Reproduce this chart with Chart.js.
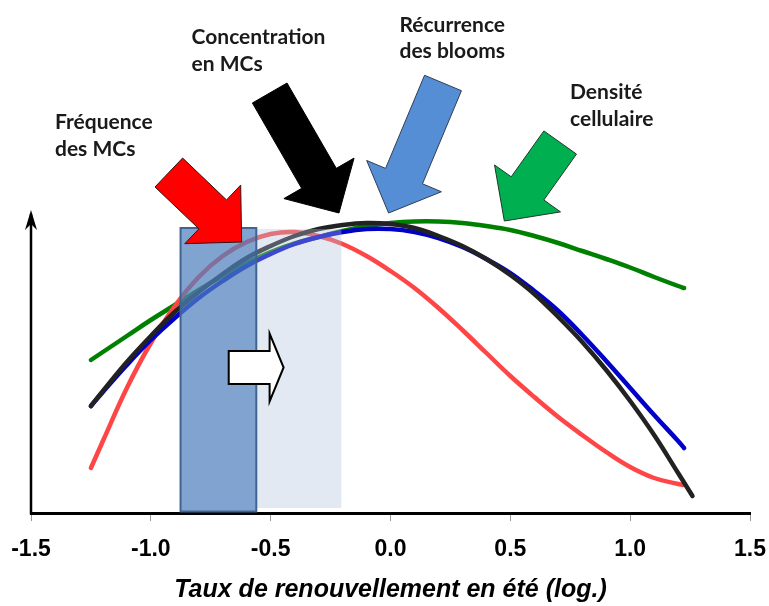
<!DOCTYPE html>
<html><head><meta charset="utf-8">
<script src="https://cdn.jsdelivr.net/npm/chart.js@4.4.0/dist/chart.umd.min.js"></script>
<style>html,body{margin:0;padding:0;background:#fff}canvas{display:block}</style>
</head><body>
<canvas id="c" width="769" height="606"></canvas>
<script>
// ---- data (y in arbitrary index units) ----
const tau = [-1.25,-1.2,-1.1,-1.0,-0.9,-0.8,-0.7,-0.6,-0.5,-0.4,-0.3,-0.2,-0.1,0.0,0.1,0.2,0.3,0.4,0.5,0.6,0.7,0.8,0.9,1.0,1.1,1.2];
const seriesNames = ['Concentration en MCs','Récurrence des blooms','Fréquence des MCs','Densité cellulaire'];
const endTau = [1.26, 1.225, 1.22, 1.225];
const concentrationMC = [107,122,151,177,201,221,239,255,267,277,284,288,290,289,285,277,267,254,238,219,196,171,143,112,78,40,17];
const recurrenceBlooms = [107,121,148,173,195,215,232,247,259,269,276,281,284,284,281,275,266,254,240,222,202,178,152,125,98,72,65];
const frequenceMC = [45,72,125,170,207,236,257,271,279,281,277,269,257,242,225,205,183,160,137,116,96,78,61,46,35,29,28];
const densiteCellulaire = [153,161,177,193,208,223,237,250,261,269.5,276,282,287,290,291.5,291.5,290,287,283,277,270,262,254,245.5,236,227,225];
const tickValues = [-1.5,-1.0,-0.5,0.0,0.5,1.0,1.5];
const tickLabels = ['-1.5','-1.0','-0.5','0.0','0.5','1.0','1.5'];
const axisTitle = 'Taux de renouvellement en été (log.)';

// ---- annotation layout (data coordinates) ----
const annotations = {
  lightBand: {x0:-0.56, x1:-0.205, y0:5, y1:284},
  darkBand: {x0:-0.876, x1:-0.56, y0:1.5, y1:285},
  whiteArrow: {x0:-0.675, x1:-0.446, y:145.5},
  blockArrows: [
    {tail:[-0.925,340.5], tip:[-0.621,271], fill:'#ff0000', stroke:'#3a1010'},
    {tail:[-0.504,420], tip:[-0.215,300], fill:'#000000', stroke:'#000000'},
    {tail:[0.219,430], tip:[-0.008,300], fill:'#558ed5', stroke:'#2f3f55'},
    {tail:[0.708,370.5], tip:[0.475,292], fill:'#00b050', stroke:'#1f3a28'}
  ],
  texts: [
    {lines:['Fréquence','des MCs'], x:-1.4, y:383.7},
    {lines:['Concentration','en MCs'], x:-0.830, y:469},
    {lines:['Récurrence','des blooms'], x:0.0375, y:481.3},
    {lines:['Densité','cellulaire'], x:0.749, y:413.7}
  ]
};

const colors = ['#222222','#0000c8','#ff4646','#008000'];
const valuesList = [concentrationMC, recurrenceBlooms, frequenceMC, densiteCellulaire];

const datasets = valuesList.map((vals, i) => ({
  label: seriesNames[i],
  data: tau.concat([endTau[i]]).map((x, j) => ({x: x, y: vals[j]})),
  borderColor: colors[i],
  borderWidth: 4.5,
  borderCapStyle: 'round',
  borderJoinStyle: 'round',
  pointRadius: 0,
  fill: false,
  tension: 0.4
}));

function blockArrow(ctx, T, P, sw, hw, hl, fill, stroke) {
  const dx = P[0]-T[0], dy = P[1]-T[1], L = Math.hypot(dx, dy);
  const ux = dx/L, uy = dy/L, nx = -uy, ny = ux;
  const bx = P[0]-ux*hl, by = P[1]-uy*hl;
  ctx.beginPath();
  ctx.moveTo(T[0]+nx*sw/2, T[1]+ny*sw/2);
  ctx.lineTo(bx+nx*sw/2, by+ny*sw/2);
  ctx.lineTo(bx+nx*hw/2, by+ny*hw/2);
  ctx.lineTo(P[0], P[1]);
  ctx.lineTo(bx-nx*hw/2, by-ny*hw/2);
  ctx.lineTo(bx-nx*sw/2, by-ny*sw/2);
  ctx.lineTo(T[0]-nx*sw/2, T[1]-ny*sw/2);
  ctx.closePath();
  ctx.fillStyle = fill; ctx.fill();
  ctx.lineWidth = 1; ctx.strokeStyle = stroke; ctx.stroke();
}

const decor = {
  id: 'decor',
  beforeDraw(chart) {
    const ctx = chart.ctx;
    ctx.save(); ctx.fillStyle = '#fff'; ctx.fillRect(0, 0, chart.width, chart.height); ctx.restore();
  },
  afterDatasetsDraw(chart) {
    const ctx = chart.ctx, xs = chart.scales.x, ys = chart.scales.y;
    const px = v => xs.getPixelForValue(v), py = v => ys.getPixelForValue(v);
    ctx.save();
    // light band
    const lb = annotations.lightBand;
    ctx.fillStyle = 'rgba(175,193,219,0.36)';
    ctx.fillRect(px(lb.x0), py(lb.y1), px(lb.x1)-px(lb.x0), py(lb.y0)-py(lb.y1));
    // dark band
    const db = annotations.darkBand;
    ctx.fillStyle = 'rgba(79,129,189,0.72)';
    const dx0 = px(db.x0), dy0 = py(db.y1), dw = px(db.x1)-px(db.x0), dh = py(db.y0)-py(db.y1);
    ctx.fillRect(dx0, dy0, dw, dh);
    ctx.lineWidth = 2; ctx.strokeStyle = '#3f6492';
    ctx.strokeRect(dx0, dy0, dw, dh);
    // white arrow
    const wa = annotations.whiteArrow;
    const wx0 = px(wa.x0), wx1 = px(wa.x1), wy = py(wa.y);
    const hl = 14, bh = 16.5, hh = 34;
    ctx.beginPath();
    ctx.moveTo(wx0, wy-bh); ctx.lineTo(wx1-hl, wy-bh); ctx.lineTo(wx1-hl, wy-hh);
    ctx.lineTo(wx1, wy); ctx.lineTo(wx1-hl, wy+hh); ctx.lineTo(wx1-hl, wy+bh);
    ctx.lineTo(wx0, wy+bh); ctx.closePath();
    ctx.fillStyle = '#fff'; ctx.fill();
    ctx.lineWidth = 2; ctx.strokeStyle = '#000'; ctx.lineJoin = 'miter'; ctx.stroke();
    // block arrows
    annotations.blockArrows.forEach(a => {
      blockArrow(ctx, [px(a.tail[0]), py(a.tail[1])], [px(a.tip[0]), py(a.tip[1])], 40, 81, 40, a.fill, a.stroke);
    });
    // texts
    ctx.fillStyle = '#1a1a1a';
    ctx.font = 'bold 21px Lato';
    ctx.textAlign = 'left'; ctx.textBaseline = 'alphabetic';
    annotations.texts.forEach(t => {
      t.lines.forEach((line, k) => ctx.fillText(line, px(t.x), py(t.y) + k*26.5));
    });
    // y axis arrow
    const ax = px(-1.5), yb = py(0), yt = py(303);
    ctx.beginPath(); ctx.moveTo(ax, yb+1.5); ctx.lineTo(ax, yt+4);
    ctx.lineWidth = 2.5; ctx.strokeStyle = '#000'; ctx.stroke();
    ctx.beginPath();
    ctx.moveTo(ax, yt); ctx.lineTo(ax-6, yt+20); ctx.lineTo(ax, yt+14); ctx.lineTo(ax+6, yt+20); ctx.closePath();
    ctx.fillStyle = '#000'; ctx.fill();
    ctx.restore();
  }
};

new Chart(document.getElementById('c'), {
  type: 'line',
  data: {datasets},
  options: {
    responsive: false,
    devicePixelRatio: 1,
    animation: false,
    layout: {padding: {left: 31, right: 19, top: 210, bottom: 0}},
    plugins: {legend: {display: false}, tooltip: {enabled: false}},
    scales: {
      x: {
        type: 'linear', min: -1.5, max: 1.5,
        afterBuildTicks: s => { s.ticks = tickValues.map(v => ({value: v})); },
        afterFit: s => { s.height = 93; s.paddingLeft = 0; s.paddingRight = 0; },
        ticks: {
          callback: (v, i) => tickLabels[i],
          font: {family: 'Liberation Sans', size: 23, weight: 'bold'},
          color: '#000', padding: 15, maxRotation: 0, autoSkip: false
        },
        grid: {drawOnChartArea: false, drawTicks: true, tickLength: 8, tickColor: '#999', tickWidth: 1},
        border: {display: true, color: '#000', width: 3},
        title: {
          display: true, text: axisTitle, color: '#000',
          font: {family: 'Liberation Sans', size: 25, weight: 'bold', style: 'italic'},
          padding: {top: 0, bottom: 1}
        }
      },
      y: {type: 'linear', min: 0, max: 303, display: false}
    }
  },
  plugins: [decor]
});
</script>
</body></html>
